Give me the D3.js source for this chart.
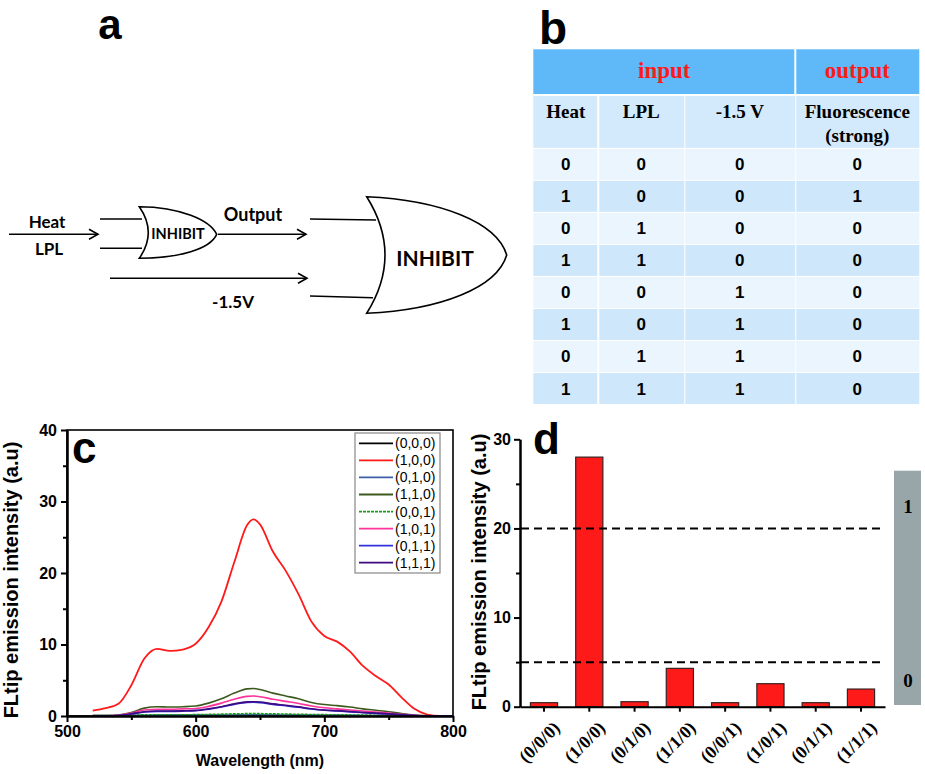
<!DOCTYPE html>
<html>
<head>
<meta charset="utf-8">
<script src="https://cdn.jsdelivr.net/npm/d3@7"></script>
<style>
  body { margin: 0; background: #fff; }
  svg { display: block; }
  .sans { font-family: "Liberation Sans", Arial, sans-serif; font-weight: bold; }
  .serif { font-family: "Liberation Serif", "Times New Roman", serif; font-weight: bold; }
  .cal { font-family: Lato, "Open Sans", sans-serif; font-weight: bold; }
  .axis path, .axis line { stroke: #000; stroke-width: 2px; }
  .axis text { font-family: "Liberation Sans", Arial, sans-serif; font-weight: bold; font-size: 16px; fill: #000; }
</style>
</head>
<body>
<script>
// ---- panel b : truth table
const tableHead = ["Heat", "LPL", "-1.5 V", "Fluorescence"];
const tableRows = [
  [0, 0, 0, 0],
  [1, 0, 0, 1],
  [0, 1, 0, 0],
  [1, 1, 0, 0],
  [0, 0, 1, 0],
  [1, 0, 1, 0],
  [0, 1, 1, 0],
  [1, 1, 1, 0]
];

// ---- panel c : emission spectra
const wavelengths = [520, 530, 540, 550, 560, 570, 580, 590, 600, 610, 620, 630, 640, 645, 650,
  660, 670, 680, 690, 700, 710, 720, 730, 740, 750, 760, 770, 780, 790, 800];
const s000 = [0.03, 0.03, 0.03, 0.04, 0.04, 0.05, 0.05, 0.05, 0.05, 0.05, 0.06, 0.06, 0.06, 0.06, 0.06,
  0.06, 0.06, 0.05, 0.05, 0.05, 0.05, 0.04, 0.04, 0.04, 0.03, 0.03, 0.03, 0.02, 0.02, 0.02];
const s100 = [0.75, 1.1, 1.7, 4.3, 8.0, 9.4, 9.1, 9.3, 10.1, 12.4, 16.0, 21.5, 26.7, 27.5, 26.8,
  23.0, 20.3, 17.0, 13.2, 11.2, 10.4, 9.0, 7.0, 5.6, 4.4, 2.6, 1.0, 0.2, 0, 0];
const s010 = [0.05, 0.05, 0.06, 0.08, 0.1, 0.12, 0.12, 0.12, 0.12, 0.13, 0.14, 0.15, 0.16, 0.16, 0.16,
  0.15, 0.14, 0.13, 0.12, 0.11, 0.1, 0.09, 0.08, 0.07, 0.06, 0.05, 0.04, 0.03, 0.02, 0.02];
const s110 = [0.05, 0.06, 0.15, 0.5, 1.1, 1.3, 1.25, 1.3, 1.4, 1.8, 2.4, 3.2, 3.8, 3.85, 3.7,
  3.2, 2.8, 2.4, 1.9, 1.6, 1.45, 1.25, 1.0, 0.8, 0.6, 0.35, 0.15, 0.05, 0, 0];
const s001 = [0.05, 0.06, 0.08, 0.12, 0.16, 0.18, 0.18, 0.18, 0.19, 0.22, 0.26, 0.3, 0.33, 0.34, 0.33,
  0.3, 0.27, 0.24, 0.21, 0.19, 0.17, 0.15, 0.13, 0.11, 0.09, 0.07, 0.05, 0.03, 0.02, 0.02];
const s101 = [0.03, 0.04, 0.1, 0.4, 0.85, 0.95, 0.95, 1.0, 1.05, 1.35, 1.8, 2.35, 2.75, 2.8, 2.7,
  2.35, 2.05, 1.75, 1.4, 1.15, 1.0, 0.85, 0.7, 0.55, 0.4, 0.25, 0.1, 0.03, 0, 0];
const s011 = [0.02, 0.03, 0.07, 0.28, 0.55, 0.65, 0.65, 0.68, 0.74, 0.95, 1.25, 1.62, 1.9, 1.92, 1.87,
  1.63, 1.43, 1.22, 0.97, 0.8, 0.7, 0.58, 0.47, 0.37, 0.27, 0.16, 0.07, 0.02, 0, 0];
const s111 = [0.02, 0.03, 0.08, 0.3, 0.6, 0.7, 0.7, 0.72, 0.78, 1.0, 1.3, 1.7, 1.98, 2.0, 1.95,
  1.7, 1.5, 1.28, 1.02, 0.85, 0.75, 0.62, 0.5, 0.4, 0.3, 0.18, 0.08, 0.02, 0, 0];
const seriesNames = ["(0,0,0)", "(1,0,0)", "(0,1,0)", "(1,1,0)", "(0,0,1)", "(1,0,1)", "(0,1,1)", "(1,1,1)"];
const seriesValues = [s000, s100, s010, s110, s001, s101, s011, s111];
const seriesColors = ["#000000", "#ff1a1a", "#3a5fa8", "#3d5a1e", "#1a9a1a", "#ff3399", "#3333dd", "#3d0a80"];
const xTicksC = [500, 600, 700, 800];
const yTicksC = [0, 10, 20, 30, 40];

// ---- panel d : bar chart
const barLabels = ["(0/0/0)", "(1/0/0)", "(0/1/0)", "(1/1/0)", "(0/0/1)", "(1/0/1)", "(0/1/1)", "(1/1/1)"];
const barValues = [0.45, 28.0, 0.56, 4.3, 0.45, 2.58, 0.45, 1.98];
const thresholds = [20, 5];
const yTicksD = [0, 10, 20, 30];

const svg = d3.select("body")
  .append("svg")
  .attr("width", 925)
  .attr("height", 774);

svg.append("rect").attr("width", 925).attr("height", 774).attr("fill", "#fff");

/* panel letters */
svg.append("text").attr("class", "sans").attr("x", 110).attr("y", 39)
  .attr("text-anchor", "middle").style("font-size", "42px").text("a");
svg.append("text").attr("class", "sans").attr("x", 553).attr("y", 44)
  .attr("text-anchor", "middle").style("font-size", "46px").text("b");

/* ================= panel a : logic diagram ================= */
const ga = svg.append("g").attr("fill", "none").attr("stroke", "#000").attr("stroke-width", 1.6);

function arrow(x1, x2, y) {
  ga.append("line").attr("x1", x1).attr("x2", x2).attr("y1", y).attr("y2", y);
  ga.append("path").attr("d", `M${x2 - 9},${y - 5}L${x2},${y}L${x2 - 9},${y + 5}`);
}
arrow(9, 98, 234.3);
arrow(218, 306, 234.3);
arrow(110, 307, 278.3);

// small gate
ga.append("line").attr("x1", 100).attr("x2", 142).attr("y1", 219).attr("y2", 219);
ga.append("line").attr("x1", 100).attr("x2", 142).attr("y1", 248.3).attr("y2", 248.3);
ga.append("path")
  .attr("fill", "#fff")
  .attr("d", "M139.3,206.7 C180,207 210,220 216.7,234.3 C210,249 180,258 139.3,258.3 Q157.3,232.5 139.3,206.7Z");

// big gate
ga.append("line").attr("x1", 310).attr("x2", 376).attr("y1", 219).attr("y2", 220);
ga.append("line").attr("x1", 310).attr("x2", 373).attr("y1", 296).attr("y2", 297.7);
ga.append("path")
  .attr("fill", "#fff")
  .attr("d", "M366.7,196.7 C440,200 497,222 506.7,255 C497,288 440,310 366.7,313.3 Q403.3,255 366.7,196.7Z");

const diagText = [
  { t: "Heat", x: 47, y: 228, s: 17 },
  { t: "LPL", x: 49, y: 255, s: 17 },
  { t: "Output", x: 253, y: 221, s: 18 },
  { t: "INHIBIT", x: 178, y: 238.5, s: 14.5 },
  { t: "INHIBIT", x: 435, y: 265.5, s: 21 },
  { t: "-1.5V", x: 233, y: 308, s: 17 }
];
svg.append("g").selectAll("text")
  .data(diagText)
  .enter()
  .append("text")
  .attr("class", "cal")
  .attr("x", d => d.x)
  .attr("y", d => d.y)
  .attr("text-anchor", "middle")
  .style("font-size", d => d.s + "px")
  .text(d => d.t);

/* ================= panel b : table ================= */
const colEdges = [533.3, 598.3, 684.3, 795.3, 919.3];
const rowEdges = [49.3, 95, 147.8];
tableRows.forEach((r, i) => rowEdges.push(147.8 + (i + 1) * 32.03));

const gb = svg.append("g");
const gap = 1;
// header row 1
gb.append("rect").attr("x", colEdges[0]).attr("y", rowEdges[0])
  .attr("width", colEdges[3] - colEdges[0] - gap).attr("height", rowEdges[1] - rowEdges[0] - gap)
  .attr("fill", "#5fb8f7");
gb.append("rect").attr("x", colEdges[3] + gap).attr("y", rowEdges[0])
  .attr("width", colEdges[4] - colEdges[3] - gap).attr("height", rowEdges[1] - rowEdges[0] - gap)
  .attr("fill", "#5fb8f7");
gb.append("text").attr("class", "serif").attr("x", (colEdges[0] + colEdges[3]) / 2).attr("y", 78)
  .attr("text-anchor", "middle").attr("fill", "#ff1a1a").style("font-size", "23px").text("input");
gb.append("text").attr("class", "serif").attr("x", (colEdges[3] + colEdges[4]) / 2).attr("y", 78)
  .attr("text-anchor", "middle").attr("fill", "#ff1a1a").style("font-size", "23px").text("output");

const cellColor = i => i === 0 ? "#d3e9fc" : (i % 2 === 1 ? "#eaf5fe" : "#cfe7fb");
for (let r = 1; r < rowEdges.length - 1; r++) {
  for (let c = 0; c < 4; c++) {
    gb.append("rect")
      .attr("x", colEdges[c] + (c > 0 ? gap : 0))
      .attr("y", rowEdges[r] + gap)
      .attr("width", colEdges[c + 1] - colEdges[c] - gap)
      .attr("height", rowEdges[r + 1] - rowEdges[r] - gap)
      .attr("fill", cellColor(r - 1));
  }
}
const colMid = c => (colEdges[c] + colEdges[c + 1]) / 2;
gb.selectAll(".head")
  .data(tableHead)
  .enter()
  .append("text")
  .attr("class", "serif head")
  .attr("x", (d, i) => colMid(i))
  .attr("y", 118)
  .attr("text-anchor", "middle")
  .style("font-size", "19px")
  .text(d => d);
gb.append("text").attr("class", "serif").attr("x", colMid(3)).attr("y", 142)
  .attr("text-anchor", "middle").style("font-size", "19px").text("(strong)");

tableRows.forEach((row, i) => {
  gb.selectAll(".r" + i)
    .data(row)
    .enter()
    .append("text")
    .attr("class", "sans r" + i)
    .attr("x", (d, c) => colMid(c))
    .attr("y", (rowEdges[i + 2] + rowEdges[i + 3]) / 2 + 6.5)
    .attr("text-anchor", "middle")
    .style("font-size", "17px")
    .text(d => d);
});

/* ================= panel c : spectra ================= */
const xc = d3.scaleLinear().domain([500, 800]).range([67, 453]);
const yc = d3.scaleLinear().domain([0, 40]).range([716, 430]);
const gc = svg.append("g");

gc.append("rect")
  .attr("x", xc(500)).attr("y", yc(40))
  .attr("width", xc(800) - xc(500)).attr("height", yc(0) - yc(40))
  .attr("fill", "none").attr("stroke", "#000").attr("stroke-width", 1.6);

const line = d3.line()
  .x((d, i) => xc(wavelengths[i]))
  .y(d => yc(d))
  .curve(d3.curveMonotoneX);

gc.append("g")
  .selectAll("path")
  .data(seriesValues)
  .enter()
  .append("path")
  .attr("d", line)
  .attr("fill", "none")
  .attr("stroke", (d, i) => seriesColors[i])
  .attr("stroke-width", (d, i) => i === 1 ? 1.8 : 1.6)
  .attr("stroke-dasharray", (d, i) => i === 4 ? "3,1" : null);

gc.append("g").attr("class", "axis")
  .attr("transform", `translate(0,${yc(0)})`)
  .call(d3.axisBottom(xc).tickValues(xTicksC).tickFormat(d3.format("d")).tickSize(6).tickSizeOuter(0).tickPadding(4));
gc.append("g").attr("class", "axis")
  .attr("transform", `translate(0,${yc(0)})`)
  .call(d3.axisBottom(xc).tickValues([550, 650, 750]).tickFormat("").tickSize(4).tickSizeOuter(0));
gc.append("g").attr("class", "axis")
  .attr("transform", `translate(${xc(500)},0)`)
  .call(d3.axisLeft(yc).tickValues(yTicksC).tickSize(6).tickSizeOuter(0).tickPadding(4));
gc.append("g").attr("class", "axis")
  .attr("transform", `translate(${xc(500)},0)`)
  .call(d3.axisLeft(yc).tickValues([5, 15, 25, 35]).tickFormat("").tickSize(4).tickSizeOuter(0));

gc.append("text").attr("class", "sans").attr("x", 260).attr("y", 766)
  .attr("text-anchor", "middle").style("font-size", "16px").text("Wavelength (nm)");
gc.append("text").attr("class", "sans")
  .attr("transform", "translate(18,580) rotate(-90)")
  .attr("text-anchor", "middle").style("font-size", "20px").text("FLtip emission intensity (a.u)");
gc.append("text").attr("class", "sans").attr("x", 72).attr("y", 463)
  .style("font-size", "44px").text("c");

// legend
const lg = gc.append("g");
lg.append("rect").attr("x", 355).attr("y", 433).attr("width", 85).attr("height", 140)
  .attr("fill", "#fff").attr("stroke", "#888").attr("stroke-width", 1.2);
const legendRow = lg.selectAll(".lrow")
  .data(seriesNames)
  .enter()
  .append("g")
  .attr("class", "lrow")
  .attr("transform", (d, i) => `translate(0,${443.3 + i * 17.06})`);
legendRow.append("line")
  .attr("x1", 359).attr("x2", 393)
  .attr("stroke", (d, i) => seriesColors[i])
  .attr("stroke-width", 1.8)
  .attr("stroke-dasharray", (d, i) => i === 4 ? "3,1" : null);
legendRow.append("text")
  .attr("x", 395).attr("y", 5)
  .style("font-family", "'Liberation Sans', Arial, sans-serif")
  .style("font-size", "14px")
  .text(d => d);

/* ================= panel d : bars ================= */
const xd = d3.scaleBand().domain(barLabels).range([520, 885]).paddingInner(0.4).paddingOuter(0.23);
const yd = d3.scaleLinear().domain([0, 30]).range([706.7, 439.3]);
const gd = svg.append("g");

gd.append("g")
  .selectAll("rect")
  .data(barValues)
  .enter()
  .append("rect")
  .attr("x", (d, i) => xd(barLabels[i]))
  .attr("y", d => yd(d))
  .attr("width", xd.bandwidth())
  .attr("height", d => yd(0) - yd(d))
  .attr("fill", "#ff1a1a")
  .attr("stroke", "#3a2020")
  .attr("stroke-width", 1.2);

gd.append("g")
  .selectAll("line")
  .data(thresholds)
  .enter()
  .append("line")
  .attr("x1", 521).attr("x2", 885)
  .attr("y1", d => yd(d)).attr("y2", d => yd(d))
  .attr("stroke", "#000").attr("stroke-width", 2)
  .attr("stroke-dasharray", "8,5");

gd.append("g").attr("class", "axis")
  .attr("transform", `translate(0,${yd(0)})`)
  .call(d3.axisBottom(xd).tickFormat("").tickSize(5).tickSizeOuter(0));
gd.append("g").attr("class", "axis")
  .attr("transform", "translate(520,0)")
  .call(d3.axisLeft(yd).tickValues(yTicksD).tickSize(6).tickSizeOuter(0).tickPadding(3));
gd.append("g").attr("class", "axis")
  .attr("transform", "translate(520,0)")
  .call(d3.axisLeft(yd).tickValues([5, 15, 25]).tickFormat("").tickSize(4).tickSizeOuter(0));

gd.append("g")
  .selectAll("text")
  .data(barLabels)
  .enter()
  .append("text")
  .attr("class", "serif")
  .attr("transform", d => `translate(${xd(d) + xd.bandwidth() / 2 + 17},729) rotate(-45)`)
  .attr("text-anchor", "end")
  .style("font-size", "18px")
  .text(d => d);

gd.append("text").attr("class", "sans")
  .attr("transform", "translate(486,572) rotate(-90)")
  .attr("text-anchor", "middle").style("font-size", "20px").text("FLtip emission intensity (a.u)");
gd.append("text").attr("class", "sans").attr("x", 533).attr("y", 454)
  .style("font-size", "44px").text("d");

// output state strip
gd.append("rect").attr("x", 894).attr("y", 470.7).attr("width", 27).attr("height", 234.3)
  .attr("fill", "#98a6a9");
gd.append("text").attr("class", "serif").attr("x", 908).attr("y", 513)
  .attr("text-anchor", "middle").style("font-size", "19px").text("1");
gd.append("text").attr("class", "serif").attr("x", 908).attr("y", 687)
  .attr("text-anchor", "middle").style("font-size", "19px").text("0");
</script>
</body>
</html>
